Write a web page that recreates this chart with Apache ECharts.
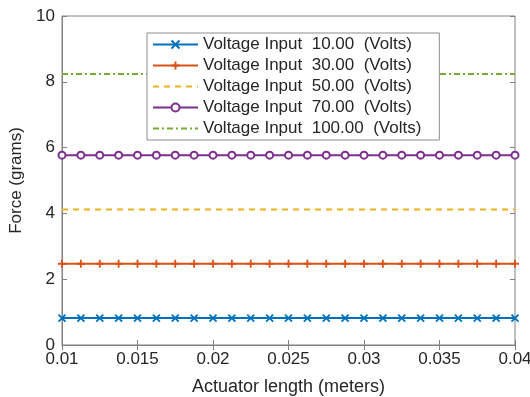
<!DOCTYPE html>
<html>
<head>
<meta charset="utf-8">
<script src="https://cdn.jsdelivr.net/npm/echarts@6/dist/echarts.min.js"></script>
<style>
  html, body { margin: 0; padding: 0; background: #fff; }
  #chart { width: 530px; height: 397px; }
</style>
</head>
<body>
<div id="chart"></div>
<script>
// actuator lengths (meters) where markers sit
const lengths = [0.01, 0.01125, 0.0125, 0.01375, 0.015, 0.01625, 0.0175, 0.01875,
  0.02, 0.02125, 0.0225, 0.02375, 0.025, 0.02625, 0.0275, 0.02875,
  0.03, 0.03125, 0.0325, 0.03375, 0.035, 0.03625, 0.0375, 0.03875, 0.04];
const voltages = ["10.00", "30.00", "50.00", "70.00", "100.00"];
// force (grams) for each voltage, constant over length
const forces = [0.82, 2.47, 4.12, 5.77, 8.24];
const colors = ["#0072BD", "#D95319", "#EDB120", "#7E2F8E", "#77AC30"];

const crossPath = "path://M0,0 L10,10 M10,0 L0,10";
const plusPath = "path://M5,0 L5,10 M0,5 L10,5";
const styles = [
  { symbol: crossPath, symbolSize: 7, lineType: "solid", show: true },
  { symbol: plusPath, symbolSize: 8, lineType: "solid", show: true },
  { symbol: "rect", symbolSize: 1, lineType: [6, 5], show: false },
  { symbol: "emptyCircle", symbolSize: 7, lineType: "solid", show: true },
  { symbol: "rect", symbolSize: 1, lineType: [6, 3, 2, 3], show: false }
];

const names = voltages.map(v => "Voltage Input  " + v + "  (Volts)");

const series = forces.map((f, i) => ({
  name: names[i],
  type: "line",
  data: lengths.map(x => [x, f]),
  symbol: styles[i].symbol,
  symbolSize: styles[i].symbolSize,
  showSymbol: styles[i].show,
  lineStyle: { color: colors[i], width: 2, type: styles[i].lineType },
  itemStyle: styles[i].show
    ? { color: colors[i], borderColor: colors[i], borderWidth: 1.8 }
    : { color: "rgba(0,0,0,0)", borderWidth: 0 },
  emphasis: { disabled: true },
  animation: false
}));

const axisColor = "#808080";
const textColor = "#262626";
const font = "Liberation Sans";

const chart = echarts.init(document.getElementById("chart"));
chart.setOption({
  color: colors,
  textStyle: { fontFamily: font },
  grid: {
    left: 62, right: 15, top: 16, bottom: 52,
    outerBoundsMode: "none", containLabel: false,
    show: true, borderColor: axisColor, borderWidth: 1
  },
  legend: {
    orient: "vertical",
    left: 147,
    top: 33,
    itemWidth: 45,
    itemHeight: 10,
    itemGap: 4,
    padding: [3, 18, 3, 5],
    borderColor: "#8c8c8c",
    borderWidth: 1,
    backgroundColor: "#fff",
    textStyle: { fontSize: 17, color: textColor, fontFamily: font }
  },
  xAxis: [{
    type: "value",
    min: 0.01,
    max: 0.04,
    interval: 0.005,
    name: "Actuator length (meters)",
    nameLocation: "middle",
    nameGap: 33,
    nameTextStyle: { fontSize: 18, color: textColor },
    axisLine: { lineStyle: { color: axisColor } },
    axisTick: { inside: true, length: 5, lineStyle: { color: axisColor } },
    axisLabel: { fontSize: 17, color: textColor, margin: 6, formatter: v => String(+v.toFixed(3)) },
    splitLine: { show: false }
  }, {
    type: "value",
    position: "top",
    min: 0.01,
    max: 0.04,
    interval: 0.005,
    axisLine: { show: false },
    axisTick: { inside: true, length: 5, lineStyle: { color: axisColor } },
    axisLabel: { show: false },
    splitLine: { show: false }
  }],
  yAxis: [{
    type: "value",
    min: 0,
    max: 10,
    interval: 2,
    name: "Force (grams)",
    nameLocation: "middle",
    nameGap: 33,
    nameTextStyle: { fontSize: 17, color: textColor },
    axisLine: { show: true, lineStyle: { color: axisColor } },
    axisTick: { show: true, inside: true, length: 5, lineStyle: { color: axisColor } },
    axisLabel: { fontSize: 17, color: textColor, margin: 7 },
    splitLine: { show: false }
  }, {
    type: "value",
    position: "right",
    min: 0,
    max: 10,
    interval: 2,
    axisLine: { show: false },
    axisTick: { show: true, inside: true, length: 5, lineStyle: { color: axisColor } },
    axisLabel: { show: false },
    splitLine: { show: false }
  }],
  series: series
});
</script>
</body>
</html>
